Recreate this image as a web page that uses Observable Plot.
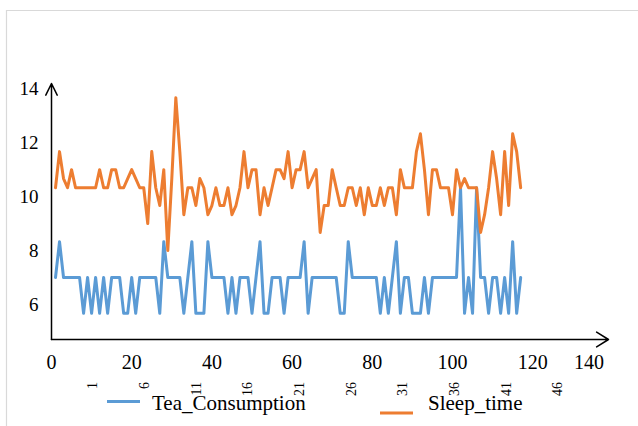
<!DOCTYPE html>
<html>
<head>
<meta charset="utf-8">
<script src="https://cdn.jsdelivr.net/npm/d3@7"></script>
<script src="https://cdn.jsdelivr.net/npm/@observablehq/plot@0.6"></script>
<style>
  html, body { margin: 0; padding: 0; background: #fff; }
  #chart svg { display: block; }
  #chart svg text { font-family: "Liberation Serif", Tinos, "Times New Roman", Times, "Nimbus Roman", "FreeSerif", "DejaVu Serif", "Noto Serif", serif; }
</style>
</head>
<body>
<div id="chart"></div>
<script>
// ---- data ----
const seriesNames = ["Tea_Consumption", "Sleep_time"];
const seriesColors = ["#5B9BD5", "#ED7D31"];

const tea = [7, 8.33, 7, 7, 7, 7, 7, 5.67, 7, 5.67,
  7, 5.67, 7, 5.67, 7, 7, 7, 5.67, 5.67, 7,
  5.67, 7, 7, 7, 7, 7, 5.67, 8.33, 7, 7,
  7, 7, 5.67, 7, 8.33, 5.67, 5.67, 5.67, 8.33, 7,
  7, 7, 7, 5.67, 7, 5.67, 7, 7, 7, 5.67,
  7, 8.33, 5.67, 5.67, 7, 7, 7, 5.67, 7, 7,
  7, 7, 8.33, 5.67, 7, 7, 7, 7, 7, 7,
  7, 5.67, 5.67, 8.33, 7, 7, 7, 7, 7, 7,
  7, 5.67, 7, 5.67, 7, 8.33, 5.67, 7, 7, 5.67,
  5.67, 5.67, 7, 5.67, 7, 7, 7, 7, 7, 7,
  7, 10.33, 5.67, 7, 5.67, 10.33, 7, 7, 5.67, 7,
  7, 5.67, 7, 5.67, 8.33, 5.67, 7];

const sleep = [10.33, 11.67, 10.67, 10.33, 11, 10.33, 10.33, 10.33, 10.33, 10.33,
  10.33, 11, 10.33, 10.33, 11, 11, 10.33, 10.33, 10.67, 11,
  10.67, 10.33, 10.33, 9, 11.67, 10.33, 9.67, 11, 8, 10.67,
  13.67, 11.67, 9.33, 10.33, 10.33, 9.67, 10.67, 10.33, 9.33, 9.67,
  10.33, 9.67, 9.67, 10.33, 9.33, 9.67, 10.33, 11.67, 10.33, 11,
  11, 9.33, 10.33, 9.67, 10.33, 11, 11, 10.67, 11.67, 10.33,
  11, 11, 11.67, 10.33, 10.67, 11, 8.67, 9.67, 9.67, 11,
  10.33, 9.67, 9.67, 10.33, 10.33, 9.67, 10.33, 9.33, 10.33, 9.67,
  9.67, 10.33, 9.67, 10.33, 10.33, 9.33, 11, 10.33, 10.33, 10.33,
  11.67, 12.33, 11, 9.33, 11, 11, 10.33, 10.33, 10.33, 9.33,
  11, 10.33, 10.67, 10.33, 10.33, 10.33, 8.67, 9.33, 10.33, 11.67,
  10.67, 9.33, 11.67, 9.67, 12.33, 11.67, 10.33];

const xTicks = [0, 20, 40, 60, 80, 100, 120, 140];
const yTicks = [6, 8, 10, 12, 14];
const catLabels = [1, 6, 11, 16, 21, 26, 31, 36, 41, 46];

// ---- build table for Plot ----
const rows = [
  ...tea.map((v, i) => ({x: i + 1, y: v, s: seriesNames[0]})),
  ...sleep.map((v, i) => ({x: i + 1, y: v, s: seriesNames[1]}))
];

const FONT = '"Liberation Serif", Tinos, "Times New Roman", Times, "Nimbus Roman", FreeSerif, "DejaVu Serif", "Noto Serif", serif';
const xDomain = [0, 138.9];
const yDomain = [4.70, 14.197];

// secondary (category) axis, mapped onto the primary x scale
const catX = d3.scaleLinear().domain([1, 46]).range([11.45, 127.4]);

const chart = Plot.plot({
  width: 638,
  height: 426,
  marginLeft: 51,
  marginRight: 30,
  marginTop: 83,
  marginBottom: 87,
  x: {domain: xDomain, axis: null},
  y: {domain: yDomain, axis: null},
  color: {domain: seriesNames, range: seriesColors},
  style: {fontFamily: FONT, background: "#fff", color: "#000", overflow: "visible"},
  marks: [
    Plot.line(rows, {x: "x", y: "y", z: "s", stroke: "s", strokeWidth: 3,
      strokeLinejoin: "round", strokeLinecap: "round"}),
    Plot.arrow([0], {x1: xDomain[0], x2: xDomain[0], y1: yDomain[0], y2: yDomain[1],
      stroke: "#000", strokeWidth: 1.5, headLength: 13, headAngle: 52}),
    Plot.arrow([0], {x1: xDomain[0], x2: xDomain[1], y1: yDomain[0], y2: yDomain[0],
      stroke: "#000", strokeWidth: 1.5, headLength: 14, headAngle: 64}),
    Plot.text(yTicks, {x: xDomain[0], y: d => d, text: d => String(d),
      textAnchor: "end", dx: -13, fontSize: 19, fill: "#000"}),
    Plot.text(xTicks.slice(0, -1), {x: d => d, frameAnchor: "bottom", dy: 29.5,
      text: d => String(d), fontSize: 20, fill: "#000"}),
    Plot.text(xTicks.slice(-1), {x: d => d, frameAnchor: "bottom", dy: 29.5, dx: -24,
      text: d => String(d), fontSize: 20, fill: "#000"}),
    Plot.text(catLabels, {x: d => catX(d), frameAnchor: "bottom", dy: 42.5,
      rotate: -90, textAnchor: "end", text: d => String(d), fontSize: 14, fill: "#000"})
  ]
});

document.getElementById("chart").appendChild(chart);

// ---- chart frame and legend ----
const svg = d3.select(chart);
svg.insert("path", ":first-child")
  .attr("d", "M6.5,426V10.5H638")
  .attr("fill", "none")
  .attr("stroke", "#d9d9d9")
  .attr("stroke-width", 1.2);

const legendLayout = [
  {x1: 107, x2: 140, ly: 401.5, tx: 152, ty: 410},
  {x1: 380, x2: 413, ly: 413, tx: 428, ty: 410}
];
const lg = svg.append("g").attr("text-anchor", "start");
seriesNames.forEach((name, i) => {
  const L = legendLayout[i];
  lg.append("line")
    .attr("x1", L.x1).attr("x2", L.x2)
    .attr("y1", L.ly).attr("y2", L.ly)
    .attr("stroke", seriesColors[i]).attr("stroke-width", 3);
  lg.append("text")
    .attr("x", L.tx).attr("y", L.ty)
    .attr("text-anchor", "start")
    .style("font-family", FONT).attr("font-size", 21)
    .attr("fill", "#000")
    .text(name);
});
</script>
</body>
</html>
